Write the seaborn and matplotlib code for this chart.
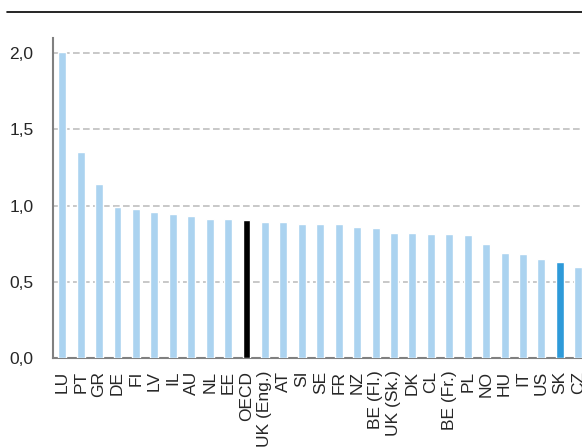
import matplotlib
matplotlib.use('Agg')
import matplotlib.pyplot as plt
import matplotlib.ticker as mticker
from matplotlib.lines import Line2D
import seaborn as sns

countries = ['LU', 'PT', 'GR', 'DE', 'FI', 'LV', 'IL', 'AU', 'NL', 'EE', 'OECD',
             'UK (Eng.)', 'AT', 'SI', 'SE', 'FR', 'NZ', 'BE (Fl.)', 'UK (Sk.)', 'DK',
             'CL', 'BE (Fr.)', 'PL', 'NO', 'HU', 'IT', 'US', 'SK', 'CZ']
values = [2.01, 1.35, 1.14, 0.99, 0.98, 0.96, 0.945, 0.93, 0.91, 0.91, 0.905,
          0.89, 0.89, 0.88, 0.88, 0.88, 0.86, 0.85, 0.82, 0.82,
          0.813, 0.813, 0.81, 0.745, 0.69, 0.68, 0.65, 0.63, 0.60]

light = '#abd3f0'
colors = {c: light for c in countries}
colors['OECD'] = '#000000'
colors['SK'] = '#2e9ad9'

sns.set_style('white')
plt.rcParams['font.family'] = ['Liberation Sans', 'DejaVu Sans']

fig = plt.figure(figsize=(5.82, 4.48), dpi=100)
ax = fig.add_axes([53 / 582, 1 - 358 / 448, 1 - 53 / 582, (358 - 38) / 448])

sns.barplot(x=countries, y=values, hue=countries, palette=colors, legend=False,
            width=0.43, saturation=1, ax=ax, zorder=3)

ax.set_yticks([0, 0.5, 1.0, 1.5, 2.0])
ax.yaxis.set_major_formatter(mticker.FuncFormatter(lambda v, p: f'{v:.1f}'.replace('.', ',')))
ax.yaxis.grid(True, linestyle=(0, (4, 2)), color='#bfbfbf', linewidth=1.2, zorder=0)
ax.set_axisbelow(True)

for s in ['top', 'right']:
    ax.spines[s].set_visible(False)
for s in ['left', 'bottom']:
    ax.spines[s].set_color('#808080')
    ax.spines[s].set_linewidth(1.5)

ax.tick_params(axis='y', which='major', direction='out', length=5, width=1.2,
               color='#808080', labelsize=12.5, pad=9)
ax.set_xticks(range(len(countries)))
ax.set_xticklabels(countries, rotation=90, fontsize=12.5)
ax.set_xticks([i + 0.5 for i in range(-1, len(countries))], minor=True)
ax.tick_params(axis='x', which='major', length=0, pad=9)
ax.tick_params(axis='x', which='minor', direction='out', length=5, width=1.2, color='#808080')
ax.set_xlabel('')
ax.set_ylabel('')

# limits last, set_xticks would widen them
ax.set_xlim(-0.5, 28.2)
ax.set_ylim(0, 2.1)

fig.add_artist(Line2D([7 / 582, 1], [1 - 12 / 448, 1 - 12 / 448], color='black', linewidth=1.2))

fig.savefig('out.png', dpi=100)
